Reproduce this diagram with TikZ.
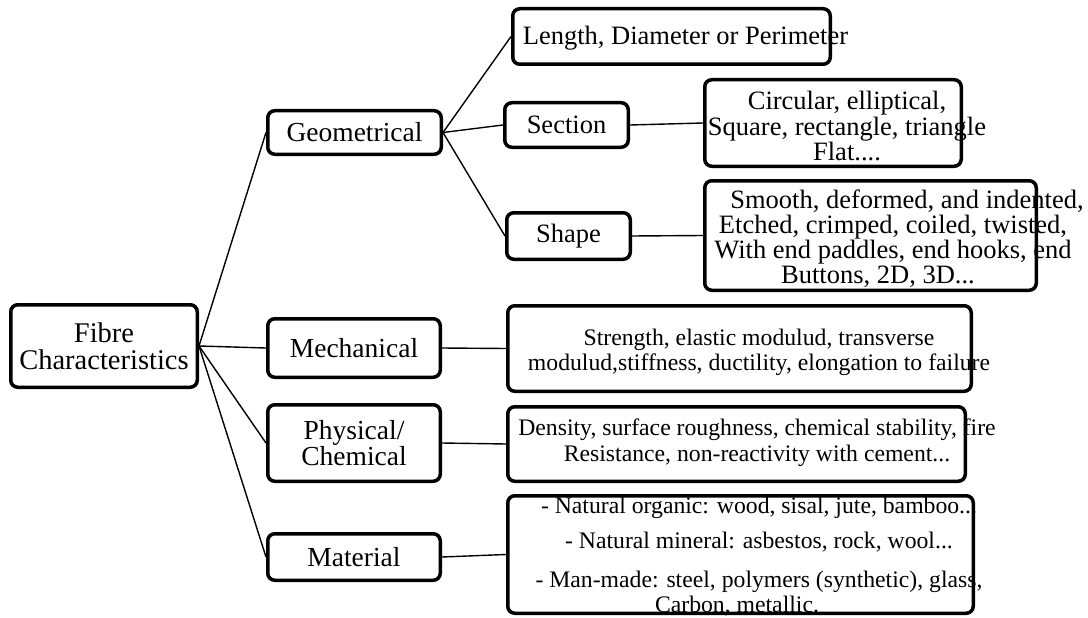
\documentclass[tikz,border=0pt]{standalone}
\usepackage{fontspec}
\setmainfont{Liberation Serif}

\begin{document}
\begin{tikzpicture}[x=1pt, y=-1pt,
    box/.style={draw, line width=3.5pt, rounded corners=7pt, inner sep=0pt, align=center,
      font=\fontsize{27.5}{26}\selectfont},
    leaf/.style={inner sep=0pt, align=center, font=\fontsize{26.5}{25.5}\selectfont},
    small/.style={leaf, font=\fontsize{23.7}{25}\selectfont},
    link/.style={line width=1.4pt}]
    \useasboundingbox (0,0) rectangle (1088,618);

    % texts of the right column (they run over the frames)
    \node[leaf, anchor=base] (lentxt) at (685.5,45) {Length, Diameter or Perimeter};
    \node[leaf] (circtxt) at (847,126) {Circular, elliptical,\\Square, rectangle, triangle\\Flat....};
    \node[leaf, font=\fontsize{26.5}{25}\selectfont] (shapetxt) at (893,239)
      {\hspace*{28pt}Smooth, deformed, and indented,\\Etched, crimped, coiled, twisted,\\With end paddles, end hooks, end\\Buttons, 2D, 3D...\hspace*{30pt}};
    \node[small] (strtxt) at (759,352) {Strength, elastic modulud, transverse\\modulud,stiffness, ductility, elongation to failure};
    \node[small, font=\fontsize{23.7}{26}\selectfont] (denstxt) at (757,442.5) {Density, surface roughness, chemical stability, fire\\Resistance, non-reactivity with cement...};
    \node[small] (mattxt) at (759,557) {- Natural organic: wood, sisal, jute, bamboo...\\[10pt]- Natural mineral: asbestos, rock, wool...\\[14pt]- Man-made: steel, polymers (synthetic), glass,\\Carbon, metallic.\hspace*{44pt}};

    % frames
    \node[box, font=\fontsize{28.5}{27}\selectfont, minimum width=186.5pt, minimum height=82.5pt] (fibre) at (104,346) {Fibre\\Characteristics};
    \node[box, minimum width=173.5pt, minimum height=43.5pt] (geo) at (354.5,132.5) {Geometrical};
    \node[box, minimum width=172.5pt, minimum height=58.5pt] (mech) at (354,348) {Mechanical};
    \node[box, minimum width=172.5pt, minimum height=76.5pt] (phys) at (354,443) {Physical/\\Chemical};
    \node[box, minimum width=172.5pt, minimum height=46.5pt] (mat) at (354,557) {Material};
    \node[box, font=\fontsize{26.5}{25.5}\selectfont, minimum width=123.5pt, minimum height=44.5pt] (sec) at (566.5,125) {Section};
    \node[box, font=\fontsize{26.5}{25.5}\selectfont, minimum width=123.5pt, minimum height=46.5pt] (shp) at (568.5,236) {Shape};
    \node[box, minimum width=317.5pt, minimum height=55.5pt] (len) at (671.5,36.5) {};
    \node[box, minimum width=256.5pt, minimum height=86.5pt] (circ) at (833,123) {};
    \node[box, minimum width=331.5pt, minimum height=109.5pt] (shpd) at (870.5,235.5) {};
    \node[box, minimum width=463.5pt, minimum height=85.5pt] (str) at (739.5,348.5) {};
    \node[box, minimum width=457.5pt, minimum height=74.5pt] (dens) at (736.5,444) {};
    \node[box, minimum width=465.5pt, minimum height=117.5pt] (nat) at (740.5,554.5) {};

    % connectors
    \foreach \t in {geo, mech, phys, mat}
      \draw[link] (fibre.east) -- (\t.west);
    \foreach \t in {len, sec, shp}
      \draw[link] (geo.east) -- (\t.west);
    \draw[link] (sec.east) -- (circ.west);
    \draw[link] (shp.east) -- (shpd.west);
    \draw[link] (mech.east) -- (str.west);
    \draw[link] (phys.east) -- (dens.west);
    \draw[link] (mat.east) -- (nat.west);
\end{tikzpicture}
\end{document}
